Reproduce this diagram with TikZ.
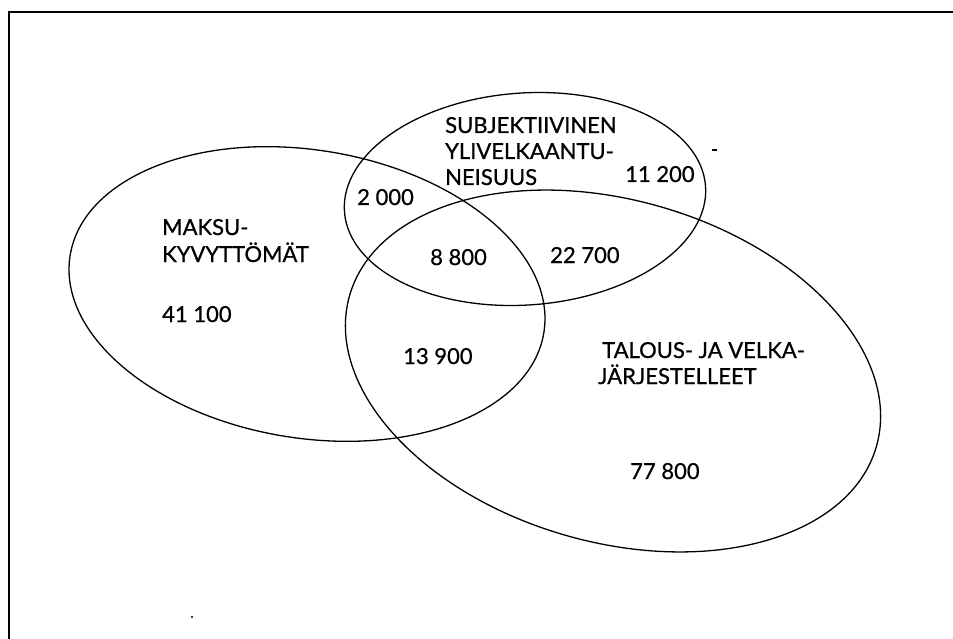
\documentclass[tikz,border=0pt]{standalone}
\usepackage{fontspec}
\setmainfont{Lato}[UprightFeatures={FakeBold=0.8}]
\begin{document}
\begin{tikzpicture}[x=1pt,y=-1pt,
  lbl/.style={anchor=base west,inner sep=0pt,font=\fontsize{22}{25}\selectfont},
  venn/.style={draw=black,line width=1.3pt},
  frame/.style={draw=black,line width=2pt}]
\useasboundingbox (0,0) rectangle (953,639);
% frame (top and left edges only)
\coordinate (fa) at (9,639);
\coordinate (fb) at (9,12);
\coordinate (fc) at (953,12);
\draw[frame] (fa) -- (fb) -- (fc);
% ellipses
\draw[venn, rotate around={-9.3:(307,294)}] (307,294) ellipse [x radius=240, y radius=144];
\draw[venn, rotate around={4:(525,199)}] (525,199) ellipse [x radius=181, y radius=106];
\draw[venn, rotate around={-16:(613,371)}] (613,371) ellipse [x radius=274, y radius=171];
% labels
\node[lbl] (s1) at (445,133) {SUBJEKTIIVINEN};
\node[lbl] (s2) at (445,159) {YLIVELKAANTU-};
\node[lbl] (s3) at (445,185) {NEISUUS};
\node[lbl] (n11) at (625,182) {11 200};
\node[lbl] (n2) at (357,205) {2 000};
\node[lbl] (n88) at (430,265) {8 800};
\node[lbl] (n227) at (550,263) {22 700};
\node[lbl] (n139) at (403,364) {13 900};
\node[lbl] (m1) at (162,235) {MAKSU-};
\node[lbl] (m2) at (162,262) {KYVYTTÖMÄT};
\node[lbl] (n411) at (162,322) {41 100};
\node[lbl] (t1) at (602,358) {TALOUS- JA VELKA-};
\node[lbl] (t2) at (598,384) {JÄRJESTELLEET};
\node[lbl] (n778) at (630,479) {77 800};
% small marks
\fill (712,149) rectangle (717,151);
\fill (192,617) circle (1.2);
\end{tikzpicture}
\end{document}
